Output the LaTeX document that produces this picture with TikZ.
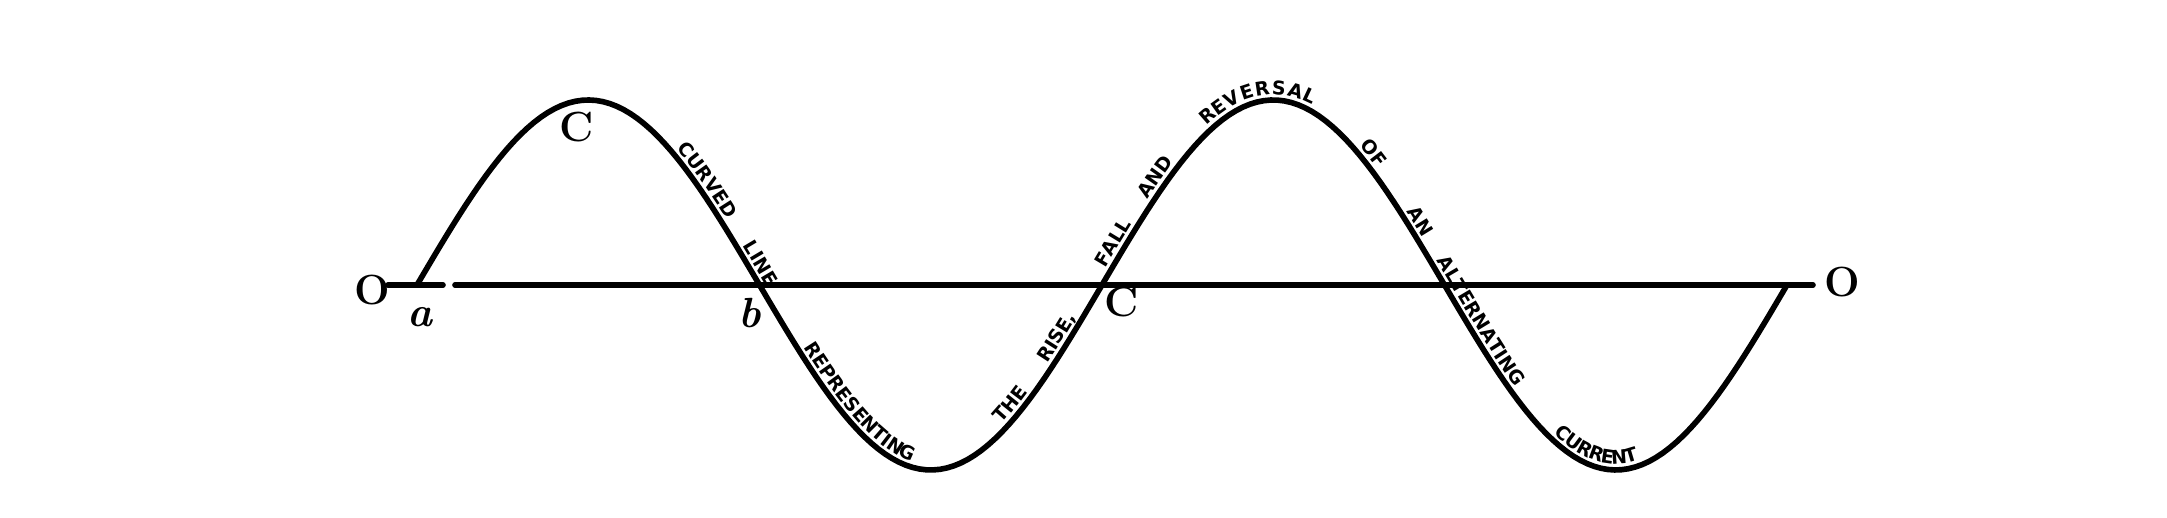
\documentclass[tikz,border=0pt]{standalone}
\usepackage{fontspec}
\usetikzlibrary{decorations.text}

\newfontfamily\wordfam{DejaVu Sans}
\newcommand{\wordfont}{\fontsize{5.4}{6}\selectfont\wordfam\bfseries}

\begin{document}
\begin{tikzpicture}[line cap=round, line join=round,
  declare function={wave(\x)=2.33+1.85*sin(180*(\x-4.17)/3.425);}]

% Define styles
\tikzstyle{curve} = [line width=1.6pt]
\tikzstyle{lbl} = [font=\fontsize{12}{12}\selectfont\bfseries, inner sep=0pt]
\tikzstyle{words} = [decorate, decoration={text along path, raise=1.6pt, text align=left}]

\useasboundingbox (0,0) rectangle (21.67,5.18);

% Axis
\coordinate (axL) at (3.88,2.33);
\coordinate (gapL) at (4.43,2.33);
\coordinate (gapR) at (4.55,2.33);
\coordinate (axR) at (18.13,2.33);
\draw[curve] (axL) -- (gapL);
\draw[curve] (gapR) -- (axR);

% Curve
\draw[curve] plot[domain=4.17:17.87, samples=200] (\x,{wave(\x)});

% Labels
\node[lbl] (oL) at (3.72,2.28) {O};
\node[lbl] (a) at (4.20,2.01) {\itshape a};
\node[lbl] (c1) at (5.77,3.91) {C};
\node[lbl] (b) at (7.50,2.05) {\itshape b};
\node[lbl] (c2) at (11.22,2.16) {C};
\node[lbl] (oR) at (18.42,2.36) {O};

% Words along the curve
\path[words, decoration={text={|\wordfont|CURVED}}] plot[domain=6.72:7.80, samples=40] (\x,{wave(\x)});
\path[words, decoration={text={|\wordfont|LINE}}] plot[domain=7.38:8.20, samples=40] (\x,{wave(\x)});
\path[words, decoration={text={|\wordfont|REPRESENTING}}] plot[domain=7.99:10.20, samples=60] (\x,{wave(\x)});
\path[words, decoration={text={|\wordfont|THE}}] plot[domain=10.06:10.80, samples=40] (\x,{wave(\x)});
\path[words, decoration={text={|\wordfont|RISE,}}] plot[domain=10.52:11.40, samples=40] (\x,{wave(\x)});
\path[words, decoration={text={|\wordfont|FALL}}] plot[domain=11.10:11.90, samples=40] (\x,{wave(\x)});
\path[words, decoration={text={|\wordfont|AND}}] plot[domain=11.52:12.30, samples=40] (\x,{wave(\x)});
\path[words, decoration={text={|\wordfont|REVERSAL}}] plot[domain=12.10:13.80, samples=60] (\x,{wave(\x)});
\path[words, decoration={text={|\wordfont|OF}}] plot[domain=13.55:14.20, samples=40] (\x,{wave(\x)});
\path[words, decoration={text={|\wordfont|AN}}] plot[domain=14.02:14.70, samples=40] (\x,{wave(\x)});
\path[words, decoration={text={|\wordfont|ALTERNATING}}] plot[domain=14.32:16.00, samples=60] (\x,{wave(\x)});
\path[words, decoration={text={|\wordfont|CURRENT}}] plot[domain=15.50:17.20, samples=60] (\x,{wave(\x)});

\end{tikzpicture}
\end{document}
